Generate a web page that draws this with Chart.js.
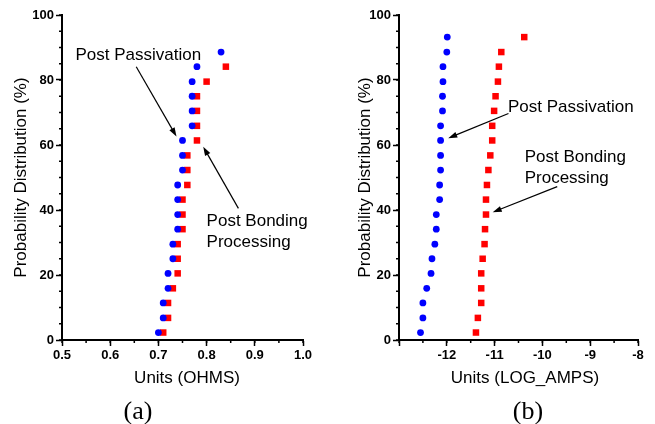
<!DOCTYPE html>
<html>
<head>
<meta charset="utf-8">
<script src="https://cdn.jsdelivr.net/npm/chart.js@4.4.1/dist/chart.umd.min.js"></script>
<style>
  body { margin: 0; background: #fff; }
  #wrap { position: relative; width: 655px; height: 424px; overflow: hidden; }
  #chartA { position: absolute; left: 0; top: 0; }
  #chartB { position: absolute; left: 330px; top: 0; }
  .tag { position: absolute; top: 396px; width: 60px; text-align: center;
         font: 26px "Liberation Serif", "Times New Roman", serif; color: #000; }
  .xtitle { position: absolute; top: 368px; width: 200px; text-align: center; line-height: 20px;
            font: 17px "Liberation Sans", Arial, sans-serif; color: #000; }
</style>
</head>
<body>
<div id="wrap">
  <canvas id="chartA" width="330" height="424"></canvas>
  <canvas id="chartB" width="325" height="424"></canvas>
  <div class="xtitle" style="left:87px">Units (OHMS)</div>
  <div class="xtitle" style="left:425px">Units (LOG_AMPS)</div>
  <div class="tag" style="left:108px">(a)</div>
  <div class="tag" style="left:498px">(b)</div>
</div>
<script>
// cumulative probability levels (%) shared by all four series, bottom to top
const probLevels = [2.3, 6.8, 11.4, 15.9, 20.5, 25.0, 29.5, 34.1, 38.6, 43.2, 47.7,
  52.3, 56.8, 61.4, 65.9, 70.5, 75.0, 79.5, 84.1, 88.6, 93.2];

// (a) resistance, OHMS
const ohmsPassivation = [0.70, 0.71, 0.71, 0.72, 0.72, 0.73, 0.73, 0.74, 0.74, 0.74,
  0.74, 0.75, 0.75, 0.75, 0.77, 0.77, 0.77, 0.77, 0.78, 0.83];
const ohmsBonding = [0.71, 0.72, 0.72, 0.73, 0.74, 0.74, 0.74, 0.75, 0.75, 0.75,
  0.76, 0.76, 0.76, 0.78, 0.78, 0.78, 0.78, 0.80, 0.84];

// (b) leakage, LOG_AMPS
const ampsPassivation = [-12.55, -12.50, -12.50, -12.42, -12.33, -12.31, -12.25, -12.22,
  -12.22, -12.15, -12.15, -12.13, -12.13, -12.13, -12.13, -12.09, -12.09, -12.08,
  -12.08, -12.00, -11.99];
const ampsBonding = [-11.39, -11.35, -11.28, -11.28, -11.28, -11.25, -11.21, -11.20,
  -11.18, -11.18, -11.16, -11.13, -11.09, -11.05, -11.05, -11.01, -10.98, -10.93,
  -10.91, -10.86, -10.38];

const yTicks = [0, 20, 40, 60, 80, 100];
const ohmsTicks = [0.5, 0.6, 0.7, 0.8, 0.9, 1.0];
const ampsTicks = [-13, -12, -11, -10, -9, -8];

const SANS = '"Liberation Sans", Arial, sans-serif';

function toPoints(vals) {
  return vals.map((v, i) => ({ x: v, y: probLevels[i] }));
}

// small outward ticks between the labelled ones
const minorTicks = {
  id: 'minorTicks',
  afterDraw(chart, args, opts) {
    const { ctx, chartArea } = chart;
    const { x, y } = chart.scales;
    ctx.save();
    ctx.strokeStyle = '#000';
    ctx.lineWidth = 1.5;
    ctx.beginPath();
    for (let i = 0; x.min + i * opts.xStep <= x.max + 1e-9; i++) {
      const px = x.getPixelForValue(x.min + i * opts.xStep);
      ctx.moveTo(px, chartArea.bottom);
      ctx.lineTo(px, chartArea.bottom + 3);
    }
    for (let i = 0; y.min + i * opts.yStep <= y.max + 1e-9; i++) {
      const py = y.getPixelForValue(y.min + i * opts.yStep);
      ctx.moveTo(chartArea.left, py);
      ctx.lineTo(chartArea.left - 3, py);
    }
    ctx.stroke();
    ctx.restore();
  }
};

// text labels and arrows, anchored in data coordinates
const notes = {
  id: 'notes',
  afterDraw(chart, args, opts) {
    const { ctx } = chart;
    const { x, y } = chart.scales;
    ctx.save();
    ctx.fillStyle = '#000';
    ctx.strokeStyle = '#000';
    ctx.font = '17px ' + SANS;
    ctx.textBaseline = 'middle';
    ctx.textAlign = 'left';
    opts.labels.forEach(l => {
      ctx.fillText(l.text, x.getPixelForValue(l.x), y.getPixelForValue(l.y));
    });
    opts.arrows.forEach(a => {
      const x0 = x.getPixelForValue(a.from[0]), y0 = y.getPixelForValue(a.from[1]);
      const x1 = x.getPixelForValue(a.to[0]), y1 = y.getPixelForValue(a.to[1]);
      const ang = Math.atan2(y1 - y0, x1 - x0);
      ctx.lineWidth = 1.2;
      ctx.beginPath();
      ctx.moveTo(x0, y0);
      ctx.lineTo(x1 - 6 * Math.cos(ang), y1 - 6 * Math.sin(ang));
      ctx.stroke();
      ctx.beginPath();
      ctx.moveTo(x1, y1);
      ctx.lineTo(x1 - 9 * Math.cos(ang) + 3 * Math.sin(ang), y1 - 9 * Math.sin(ang) - 3 * Math.cos(ang));
      ctx.lineTo(x1 - 9 * Math.cos(ang) - 3 * Math.sin(ang), y1 - 9 * Math.sin(ang) + 3 * Math.cos(ang));
      ctx.closePath();
      ctx.fill();
    });
    ctx.restore();
  }
};

function makeChart(el, cfg) {
  return new Chart(el, {
    type: 'scatter',
    data: {
      datasets: [
        {
          label: 'Post Passivation',
          data: toPoints(cfg.blue),
          pointStyle: 'circle',
          pointRadius: 3.4,
          backgroundColor: '#0000ff',
          borderWidth: 0
        },
        {
          label: 'Post Bonding Processing',
          data: toPoints(cfg.red),
          pointStyle: 'rect',
          pointRadius: 4.6,
          backgroundColor: '#ff0000',
          borderWidth: 0
        }
      ]
    },
    options: {
      responsive: false,
      animation: false,
      layout: { padding: { left: 0, top: 15, right: cfg.padRight, bottom: 35.8 } },
      plugins: {
        legend: { display: false },
        tooltip: { enabled: false },
        minorTicks: { xStep: cfg.xMinor, yStep: 5 },
        notes: { labels: cfg.labels, arrows: cfg.arrows }
      },
      scales: {
        x: {
          type: 'linear',
          min: cfg.xTicks[0],
          max: cfg.xTicks[cfg.xTicks.length - 1],
          afterBuildTicks: s => { s.ticks = cfg.xTicks.map(v => ({ value: v })); },
          afterFit: s => { s.height = 48.2; },
          grid: { drawOnChartArea: false, tickLength: 6, tickColor: '#000', tickWidth: 1.5 },
          border: { color: '#000', width: 2 },
          ticks: {
            padding: 2,
            color: '#000',
            font: { family: SANS, size: 13, weight: 'bold' },
            callback: cfg.xLabel
          }
        },
        y: {
          min: 0,
          max: 100,
          afterBuildTicks: s => { s.ticks = yTicks.map(v => ({ value: v })); },
          afterFit: s => { s.width = cfg.yWidth; },
          grid: { drawOnChartArea: false, tickLength: 6, tickColor: '#000', tickWidth: 1.5 },
          border: { color: '#000', width: 2 },
          ticks: {
            padding: 2,
            color: '#000',
            font: { family: SANS, size: 13, weight: 'bold' }
          },
          title: {
            display: true,
            text: 'Probability Distribution (%)',
            color: '#000',
            font: { family: SANS, size: 17 },
            padding: { top: cfg.yTitlePad, bottom: 0 }
          }
        }
      }
    },
    plugins: [minorTicks, notes]
  });
}

makeChart(document.getElementById('chartA'), {
  blue: ohmsPassivation,
  red: ohmsBonding,
  xTicks: ohmsTicks,
  xMinor: 0.05,
  xLabel: v => v.toFixed(1),
  yWidth: 62,
  yTitlePad: 10.8,
  padRight: 27,
  labels: [
    { text: 'Post Passivation', x: 0.528, y: 87.7 },
    { text: 'Post Bonding', x: 0.80, y: 36.4 },
    { text: 'Processing', x: 0.80, y: 30.2 }
  ],
  arrows: [
    { from: [0.654, 84.1], to: [0.7375, 62.6] },
    { from: [0.866, 40.5], to: [0.793, 59.5] }
  ]
});

makeChart(document.getElementById('chartB'), {
  blue: ampsPassivation,
  red: ampsBonding,
  xTicks: ampsTicks,
  xMinor: 0.5,
  xLabel: v => (v === -13 ? '' : String(v)),
  yWidth: 69,
  yTitlePad: 24.8,
  padRight: 17,
  labels: [
    { text: 'Post Passivation', x: -10.72, y: 71.5 },
    { text: 'Post Bonding', x: -10.37, y: 56.1 },
    { text: 'Processing', x: -10.37, y: 49.7 }
  ],
  arrows: [
    { from: [-10.71, 69.7], to: [-11.97, 62.1] },
    { from: [-9.69, 47.2], to: [-11.04, 39.3] }
  ]
});
</script>
</body>
</html>
